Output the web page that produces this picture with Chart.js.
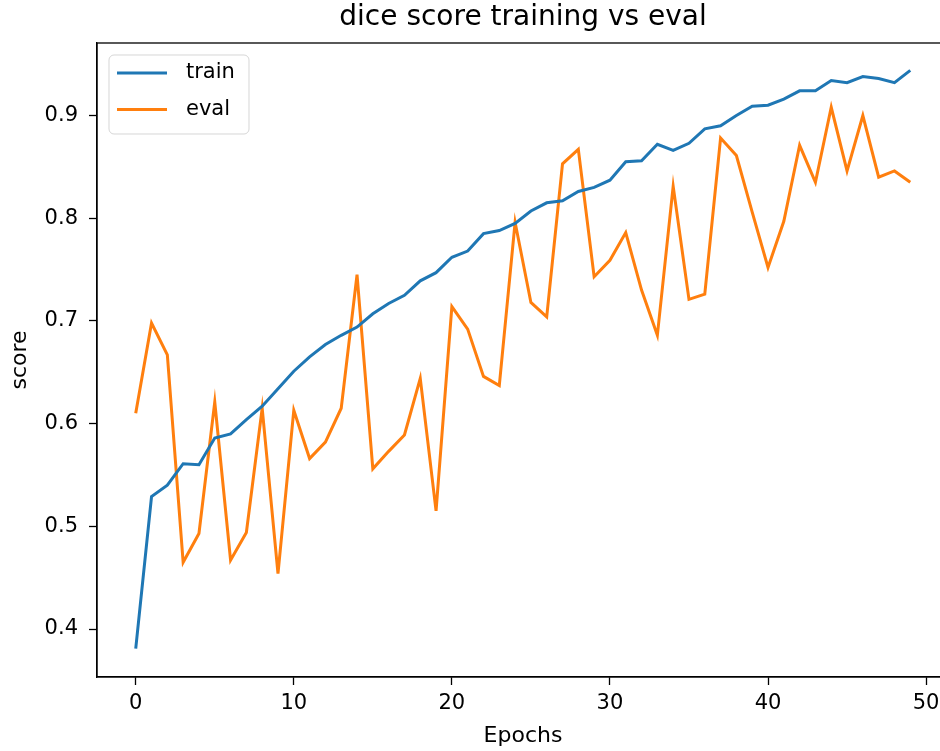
<!DOCTYPE html>
<html>
<head>
<meta charset="utf-8">
<script src="https://cdn.jsdelivr.net/npm/chart.js@4"></script>
<style>
  html, body { margin: 0; padding: 0; background: #fff; overflow: hidden; }
  #wrap { width: 940px; height: 751px; overflow: hidden; }
</style>
</head>
<body>
<div id="wrap"><canvas id="myChart" width="1046" height="751"></canvas></div>
<script>
const epochs = [0, 1, 2, 3, 4, 5, 6, 7, 8, 9, 10, 11, 12, 13, 14, 15, 16, 17, 18, 19,
  20, 21, 22, 23, 24, 25, 26, 27, 28, 29, 30, 31, 32, 33, 34, 35, 36, 37, 38, 39,
  40, 41, 42, 43, 44, 45, 46, 47, 48, 49];

const trainScore = [0.381, 0.529, 0.540, 0.561, 0.560, 0.586, 0.590, 0.604, 0.617, 0.634,
  0.651, 0.665, 0.677, 0.686, 0.694, 0.707, 0.717, 0.725, 0.739, 0.747,
  0.762, 0.768, 0.785, 0.788, 0.795, 0.807, 0.815, 0.817, 0.826, 0.830,
  0.837, 0.855, 0.856, 0.872, 0.866, 0.873, 0.887, 0.890, 0.900, 0.909,
  0.910, 0.916, 0.924, 0.924, 0.934, 0.932, 0.938, 0.936, 0.932, 0.944];

const evalScore = [0.610, 0.698, 0.667, 0.465, 0.493, 0.621, 0.467, 0.494, 0.615, 0.454,
  0.613, 0.566, 0.582, 0.615, 0.745, 0.556, 0.573, 0.589, 0.644, 0.515,
  0.714, 0.692, 0.646, 0.637, 0.796, 0.718, 0.704, 0.853, 0.867, 0.743,
  0.759, 0.786, 0.730, 0.686, 0.831, 0.721, 0.726, 0.878, 0.861, 0.806,
  0.752, 0.797, 0.871, 0.835, 0.908, 0.846, 0.900, 0.840, 0.846, 0.835];

const xTicks = [0, 10, 20, 30, 40, 50];
const yTicks = [0.4, 0.5, 0.6, 0.7, 0.8, 0.9];
const chartTitle = "dice score training vs eval";

const FONT = "'DejaVu Sans', sans-serif";

function toPoints(values) {
  return epochs.map((e, i) => ({ x: e, y: values[i] }));
}

// title over the plot, frame round it and legend box upper left (matplotlib look)
const framePlugin = {
  id: "frame",
  afterDatasetsDraw(chart) {
    const { ctx, chartArea: a } = chart;
    ctx.save();
    ctx.strokeStyle = "#000";
    ctx.lineWidth = 1.3;
    ctx.strokeRect(a.left, a.top, a.right - a.left, a.bottom - a.top);

    ctx.fillStyle = "#000";
    ctx.font = "28px " + FONT;
    ctx.textAlign = "center";
    ctx.textBaseline = "middle";
    ctx.fillText(chartTitle, (a.left + a.right) / 2, 18);

    // legend
    const bx = 109, by = 55, bw = 140, bh = 79, r = 5;
    ctx.beginPath();
    ctx.roundRect(bx, by, bw, bh, r);
    ctx.fillStyle = "rgba(255,255,255,0.8)";
    ctx.fill();
    ctx.strokeStyle = "rgba(204,204,204,0.8)";
    ctx.lineWidth = 1;
    ctx.stroke();

    ctx.font = "21px " + FONT;
    ctx.textBaseline = "middle";
    ctx.textAlign = "left";
    chart.data.datasets.forEach((ds, i) => {
      const y = 73 + i * 36.6;
      ctx.beginPath();
      ctx.moveTo(117, y);
      ctx.lineTo(167, y);
      ctx.strokeStyle = ds.borderColor;
      ctx.lineWidth = 3;
      ctx.stroke();
      ctx.fillStyle = "#000";
      ctx.fillText(ds.label, 186, y);
    });
    ctx.restore();
  }
};

const config = {
  type: "line",
  data: {
    datasets: [
      {
        label: "train",
        data: toPoints(trainScore),
        borderColor: "#1f77b4",
        borderWidth: 3,
        pointRadius: 0,
        tension: 0,
      },
      {
        label: "eval",
        data: toPoints(evalScore),
        borderColor: "#ff7f0e",
        borderWidth: 3,
        pointRadius: 0,
        tension: 0,
      },
    ],
  },
  options: {
    responsive: false,
    animation: false,
    layout: { padding: { left: 0, right: 97, top: 43, bottom: 0 } },
    plugins: {
      legend: { display: false },
      tooltip: { enabled: false },
      title: { display: false },
    },
    scales: {
      x: {
        type: "linear",
        min: -2.45,
        max: 51.45,
        afterFit: (s) => { s.height = 74; },
        afterBuildTicks: (s) => { s.ticks = xTicks.map((v) => ({ value: v })); },
        grid: { drawOnChartArea: false, drawTicks: true, tickLength: 8, tickColor: "#000", tickWidth: 1.3 },
        border: { color: "#000", width: 1.3 },
        ticks: { color: "#000", font: { family: FONT, size: 21 }, padding: 6, maxRotation: 0 },
        title: {
          display: true,
          text: "Epochs",
          color: "#000",
          font: { family: FONT, size: 22 },
          padding: { top: 0, bottom: 2 },
        },
      },
      y: {
        type: "linear",
        min: 0.3533,
        max: 0.9706,
        afterFit: (s) => { s.width = 97; },
        afterBuildTicks: (s) => { s.ticks = yTicks.map((v) => ({ value: v })); },
        grid: { drawOnChartArea: false, drawTicks: true, tickLength: 8, tickColor: "#000", tickWidth: 1.3 },
        border: { color: "#000", width: 1.3 },
        ticks: {
          color: "#000",
          font: { family: FONT, size: 21 },
          padding: 11,
          callback: (v) => v.toFixed(1),
        },
        title: {
          display: true,
          text: "score",
          color: "#000",
          font: { family: FONT, size: 22 },
          padding: { top: 7, bottom: 0 },
        },
      },
    },
  },
  plugins: [framePlugin],
};

const canvas = document.getElementById("myChart");
const myChart = new Chart(canvas, config);
</script>
</body>
</html>
